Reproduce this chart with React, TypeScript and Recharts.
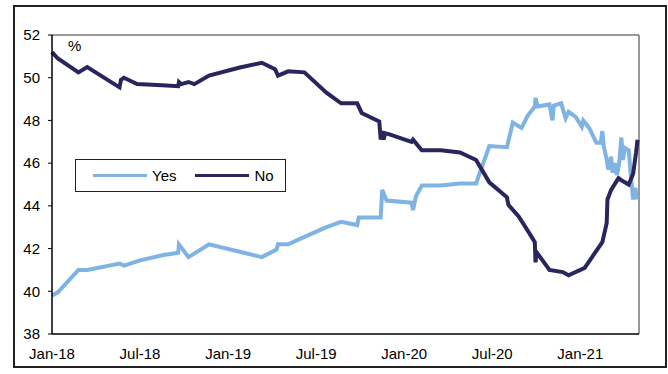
import React from 'react';
import { LineChart, Line, XAxis, YAxis, Legend, ReferenceLine } from 'recharts';

// x values are months since Jan-18
const tickMonths = [0, 6, 12, 18, 24, 30, 36];
const tickLabels = ['Jan-18', 'Jul-18', 'Jan-19', 'Jul-19', 'Jan-20', 'Jul-20', 'Jan-21'];
const yTicks = [38, 40, 42, 44, 46, 48, 50, 52];

const yesMonths = [
  0, 0.4, 1.8, 2.4, 4.6, 4.9, 6.0, 7.6, 8.6, 8.65, 9.3, 10.7, 12.8, 14.3, 15.3, 15.4, 16.1,
  17.2, 18.7, 19.7, 20.8, 20.9, 22.4, 22.5, 22.8, 24.5, 24.6, 24.8, 25.2, 26.5, 27.8, 28.9,
  29.8, 31.0, 31.4, 32.0, 32.4, 32.9, 32.95, 33.1, 33.9, 34.1, 34.2, 34.7, 35.0, 35.2, 35.7,
  36.1, 36.2, 36.6, 37.1, 37.4, 37.5, 37.6, 37.8, 37.9, 38.1, 38.2, 38.35, 38.5, 38.65, 38.8,
  38.9, 39.05, 39.3, 39.45, 39.6, 39.75, 39.85,
];
const yesValues = [
  39.8, 39.95, 41.0, 41.0, 41.3, 41.2, 41.45, 41.7, 41.8, 42.2, 41.6, 42.2, 41.85, 41.6, 41.95, 42.2, 42.2,
  42.55, 43.0, 43.25, 43.1, 43.45, 43.45, 44.75, 44.25, 44.15, 43.8, 44.45, 44.95, 44.95, 45.05, 45.05,
  46.8, 46.75, 47.9, 47.65, 48.2, 48.65, 49.05, 48.65, 48.75, 48.0, 48.7, 48.8, 48.1, 48.4, 48.15,
  47.7, 48.0, 47.65, 46.95, 46.95, 47.5, 46.8, 46.15, 45.7, 46.3, 45.55, 46.0, 45.45, 46.0, 47.2,
  46.15, 46.7, 46.6, 45.4, 44.3, 44.85, 44.3,
];

const noMonths = [
  0, 0.4, 1.8, 2.4, 4.6, 4.7, 4.9, 5.8, 7.5, 8.6, 8.65, 8.8, 9.3, 9.7, 10.7, 12.8, 14.3, 15.2,
  15.4, 16.1, 17.2, 18.7, 19.7, 20.8, 21.1, 22.3, 22.4, 22.5, 22.6, 22.7, 23.0, 24.5, 24.6, 25.2,
  26.5, 27.8, 28.9, 29.8, 31.0, 31.1, 31.8, 32.5, 32.9, 32.95, 33.0, 33.9, 34.8, 35.2, 36.3, 37.5,
  37.8, 37.85, 38.1, 38.6, 38.8, 39.3, 39.6, 39.8, 39.9,
];
const noValues = [
  51.2, 50.9, 50.25, 50.5, 49.55, 49.9, 50.0, 49.7, 49.65, 49.6, 49.8, 49.7, 49.8, 49.7, 50.1, 50.48, 50.7, 50.4,
  50.1, 50.3, 50.25, 49.3, 48.8, 48.8, 48.35, 47.95, 47.1, 47.5, 47.1, 47.4, 47.35, 47.0, 47.1, 46.6,
  46.6, 46.5, 46.15, 45.1, 44.4, 44.05, 43.5, 42.75, 42.3, 41.35, 41.85, 41.0, 40.9, 40.75, 41.1, 42.3,
  43.2, 44.3, 44.75, 45.3, 45.2, 45.0, 45.5, 46.5, 47.1,
];

const YES_COLOR = '#7fb3e4';
const NO_COLOR = '#28265c';
const FONT = '"Liberation Sans", Arial, sans-serif';

const yesData = yesMonths.map((t, i) => ({ t, v: yesValues[i] }));
const noData = noMonths.map((t, i) => ({ t, v: noValues[i] }));

const LegendBox = () => (
  <div
    style={{
      border: '1.5px solid #222',
      height: 33,
      boxSizing: 'border-box',
      display: 'flex',
      alignItems: 'center',
      fontFamily: FONT,
      fontSize: 15,
      color: '#000',
    }}
  >
    <span style={{ display: 'inline-block', width: 54, height: 3, background: YES_COLOR, marginLeft: 17 }} />
    <span style={{ marginLeft: 5 }}>Yes</span>
    <span style={{ display: 'inline-block', width: 54, height: 3, background: NO_COLOR, marginLeft: 19 }} />
    <span style={{ marginLeft: 5 }}>No</span>
  </div>
);

export default function App() {
  return (
    <div style={{ position: 'absolute', left: 0, top: 0, width: 668, height: 374, background: '#fff' }}>
      <div
        style={{
          position: 'absolute',
          left: 13,
          top: 5,
          width: 654,
          height: 363,
          border: '2px solid #222',
          boxSizing: 'border-box',
        }}
      />
      <div style={{ position: 'absolute', left: 68, top: 37, fontFamily: FONT, fontSize: 15 }}>%</div>
      <LineChart
        width={668}
        height={374}
        margin={{ top: 35, right: 29, bottom: 10, left: 12 }}
        style={{ fontFamily: FONT }}
      >
        <XAxis
          dataKey="t"
          type="number"
          domain={[0, 40]}
          ticks={tickMonths}
          tickFormatter={(m: number) => tickLabels[tickMonths.indexOf(m)]}
          allowDuplicatedCategory={false}
          height={30}
          tickLine={false}
          tickSize={6}
          tickMargin={8}
          axisLine={{ stroke: '#000', strokeWidth: 1.5 }}
          tick={{ fill: '#000', fontSize: 15 }}
        />
        <YAxis
          type="number"
          domain={[38, 52]}
          ticks={yTicks}
          width={40}
          tickSize={4}
          tickMargin={8}
          axisLine={{ stroke: '#000', strokeWidth: 1.5 }}
          tickLine={{ stroke: '#000' }}
          tick={{ fill: '#000', fontSize: 15 }}
        />
        <ReferenceLine y={52} stroke="#777" strokeWidth={1.5} />
        <ReferenceLine x={40} stroke="#777" strokeWidth={1.5} />
        <Legend
          verticalAlign="middle"
          align="center"
          layout="horizontal"
          content={() => <LegendBox />}
          wrapperStyle={{ left: 75, top: 159, width: 211, height: 33 }}
        />
        <Line
          data={yesData}
          dataKey="v"
          name="Yes"
          type="linear"
          stroke={YES_COLOR}
          strokeWidth={4}
          dot={false}
          isAnimationActive={false}
        />
        <Line
          data={noData}
          dataKey="v"
          name="No"
          type="linear"
          stroke={NO_COLOR}
          strokeWidth={4}
          dot={false}
          isAnimationActive={false}
        />
      </LineChart>
    </div>
  );
}
